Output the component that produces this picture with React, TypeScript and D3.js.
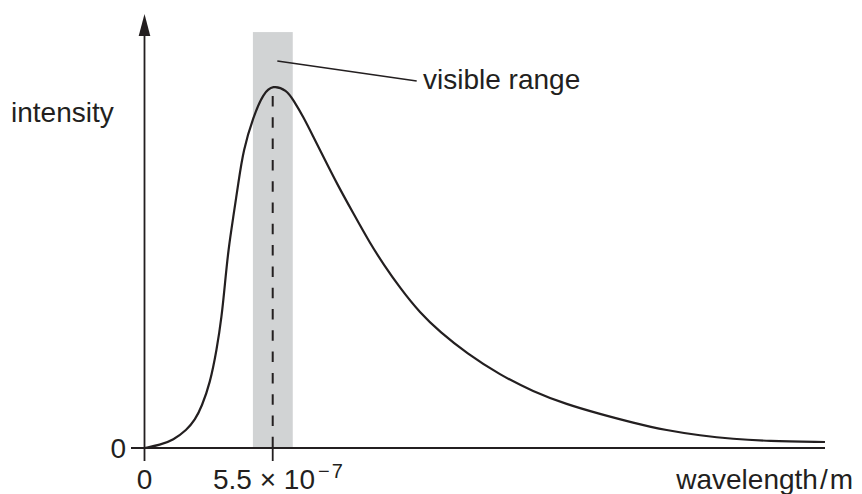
import React from "react";
import * as d3 from "d3";

// wavelength in units of 1e-7 m
const wavelengths = [0, 0.665, 1.236, 1.81, 2.166, 2.454, 2.81, 3.097, 3.312, 3.453, 3.595, 3.81, 4.024, 4.238, 4.667, 5.097, 5.5, 6.1, 6.383, 6.812, 7.241, 7.671, 8.245, 8.957, 9.674, 10.245, 10.961, 11.819, 12.677, 13.822, 15.251, 16.667, 18.112, 19.541, 20.957, 22.402, 23.831, 25.247, 26.692, 29.19];
const intensities = [0, 0.0083, 0.0221, 0.0498, 0.0774, 0.1142, 0.1789, 0.271, 0.363, 0.4554, 0.5475, 0.6395, 0.7319, 0.824, 0.916, 0.9807, 1.0037, 0.9899, 0.9622, 0.916, 0.8607, 0.8054, 0.7319, 0.6489, 0.566, 0.5088, 0.4424, 0.3733, 0.3207, 0.2618, 0.2018, 0.1562, 0.1203, 0.094, 0.0697, 0.0484, 0.0346, 0.0249, 0.0194, 0.0166];
const visibleBand = [4.65, 6.36];
const bandTop = 1.15;
const peakWavelength = 5.5;
const yTickLabel = "0";
const xTickLabels = ["0", "5.5 × 10", "−7"];
const yAxisLabel = "intensity";
const xAxisLabel = ["wavelength", "/", "m"];
const bandLabel = "visible range";

export default function App() {
  const W = 862, H = 494;
  const x = d3.scaleLinear().domain([0, 29.2]).range([144.5, 825.2]);
  const y = d3.scaleLinear().domain([0, 1.2]).range([448, 14]);
  const ink = "#231f20";
  const font = "'Liberation Sans', Arial, Helvetica, sans-serif";
  const pts = wavelengths.map((w, i) => [w, intensities[i]] as [number, number]);
  const line = d3
    .line<[number, number]>()
    .x((d) => x(d[0]))
    .y((d) => y(d[1]))
    .curve(d3.curveBasis);
  const x0 = x(0);
  const y0 = y(0);
  const px = x(peakWavelength);
  return (
    <svg width={W} height={H} style={{ position: "absolute", left: 0, top: 0, background: "#fff" }}>
      <rect
        x={x(visibleBand[0])}
        y={y(bandTop)}
        width={x(visibleBand[1]) - x(visibleBand[0])}
        height={y0 - y(bandTop)}
        fill="#d1d3d4"
      />
      {/* dashed line at peak */}
      <line x1={px} x2={px} y1={96} y2={y0} stroke={ink} strokeWidth={2} strokeDasharray="10.5,10.8" />
      {/* x axis */}
      <line x1={131} x2={825} y1={y0} y2={y0} stroke={ink} strokeWidth={1.8} />
      {/* y axis */}
      <line x1={x0} x2={x0} y1={461} y2={34} stroke={ink} strokeWidth={1.8} />
      <path d={`M${x0},14 L${x0 - 5.8},36 L${x0 + 5.8},36 Z`} fill={ink} />
      {/* tick at 5.5 */}
      <line x1={px} x2={px} y1={y0} y2={461} stroke={ink} strokeWidth={1.8} />
      {/* curve */}
      <path d={line(pts) || ""} fill="none" stroke={ink} strokeWidth={2.2} />
      {/* leader */}
      <line x1={277.3} y1={61} x2={416.7} y2={81} stroke={ink} strokeWidth={1.5} />
      <g fill={ink} fontFamily={font} fontSize={28}>
        <text x={423} y={89}>{bandLabel}</text>
        <text x={11} y={122}>{yAxisLabel}</text>
        <text x={126} y={458} textAnchor="end">{yTickLabel}</text>
        <text x={x0} y={489} textAnchor="middle">{xTickLabels[0]}</text>
        <text x={213} y={489}>{xTickLabels[1]}</text>
        <text x={318} y={478} fontSize={20} letterSpacing={2}>{xTickLabels[2]}</text>
        <text x={853} y={489} textAnchor="end">
          {xAxisLabel[0]}
          <tspan dx={2}>{xAxisLabel[1]}</tspan>
          <tspan dx={2}>{xAxisLabel[2]}</tspan>
        </text>
      </g>
    </svg>
  );
}
